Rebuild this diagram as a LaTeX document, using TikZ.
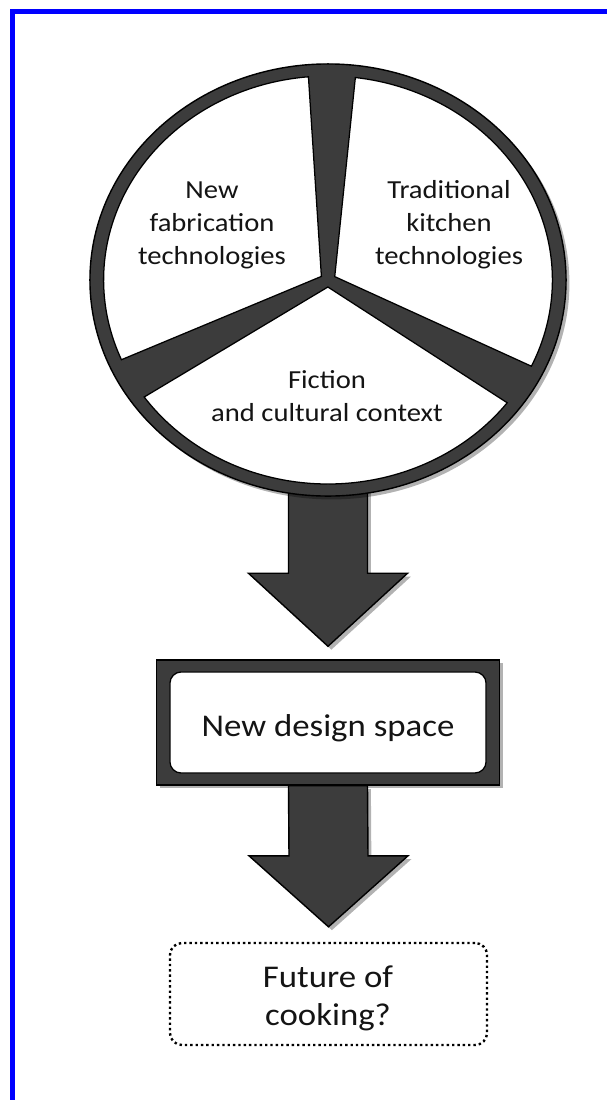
\documentclass[tikz,border=0pt]{standalone}
\usepackage{fontspec}
\setmainfont{Carlito}
\usetikzlibrary{calc,shapes.geometric,shadows}

\definecolor{ink}{RGB}{20,20,20}
\definecolor{slate}{RGB}{60,60,60}
\definecolor{frameblue}{RGB}{0,0,255}

\tikzset{
  frameline/.style={draw=frameblue, line width=0.125cm},
  softshadow/.style={drop shadow={shadow xshift=2.4pt, shadow yshift=-2.4pt, opacity=0.3, fill=black}},
  darkpart/.style={fill=slate, draw=black, line width=1pt, line join=miter},
  slice/.style={fill=white, draw=black, line width=0.9pt},
  label/.style={text=ink, align=center, inner sep=0pt, xscale=1.1,
    font=\fontsize{18.5}{23.4}\selectfont},
  biglabel/.style={text=ink, align=center, inner sep=0pt, xscale=1.1,
    font=\fontsize{22.5}{27}\selectfont},
  wheel/.style={ellipse, darkpart, softshadow, inner sep=0pt,
    minimum width=11.9cm, minimum height=10.8cm},
  plate/.style={rectangle, darkpart, softshadow, inner sep=0pt,
    minimum width=8.575cm, minimum height=3.125cm},
  card/.style={rectangle, fill=white, draw=black, line width=0.9pt,
    rounded corners=0.28cm, inner sep=0pt,
    minimum width=7.9cm, minimum height=2.525cm},
  dotbox/.style={rectangle, draw=black, line width=1.7pt,
    dash pattern=on 1.7pt off 2.1pt, rounded corners=0.3cm, inner sep=0pt,
    minimum width=7.925cm, minimum height=2.55cm},
}

% wide block arrow: #1 top of the shaft, #2 tip, #3 length of the head
\newcommand\blockarrow[3]{%
  \path[darkpart, softshadow]
    ($(#1)+(-39.5,0)$) -- ($(#2)+(-39.5,-#3)$) -- ($(#2)+(-79.5,-#3)$)
    -- (#2) -- ($(#2)+(79.5,-#3)$) -- ($(#2)+(39.5,-#3)$)
    -- ($(#1)+(39.5,0)$) -- cycle;}

\begin{document}
\begin{tikzpicture}[x=0.025cm, y=-0.025cm]
\useasboundingbox (0,0) rectangle (607,1100);

% blue frame along the left and top edges
\draw[frameline] (12.5,1100) -- (12.5,11.5) -- (607,11.5);

% layout anchors
\coordinate (hub) at (328,280);
\node[plate] (spaceplate) at (328,722.5) {};
\node[card] (spacecard) at (spaceplate.center) {};
\node[biglabel] (space) at (328,728) {New design space};
\node[dotbox] (future) at (328.5,994) {};
\node[biglabel] (futuretext) at (328,998) {Future of\\cooking?};

% arrows between the stages
\coordinate (arrowtopA) at ($(hub)+(0,190)$);
\coordinate (tipA) at ($(spaceplate.north)+(0,-13)$);
\blockarrow{arrowtopA}{tipA}{73}
\coordinate (tipB) at ($(future.north)+(0,-15)$);
\blockarrow{spaceplate.south}{tipB}{71}

% the three-part wheel
\node[wheel] (wheelring) at (hub) {};
\begin{scope}[shift={(hub)}, xscale=1.1, yscale=-1]
  \path[slice] (149:7) -- (95:204) arc[start angle=95, end angle=203, radius=204] -- cycle;
  \path[slice] (29:7) -- (-25:204) arc[start angle=-25, end angle=83, radius=204] -- cycle;
  \path[slice] (269:7) -- (215:204) arc[start angle=215, end angle=323, radius=204] -- cycle;
\end{scope}

\node[label] (newfab) at (212,225) {New\\fabrication\\technologies};
\node[label] (tradkit) at (449,225) {Traditional\\kitchen\\technologies};
\node[label] (fiction) at (327,396) {Fiction\\and cultural context};

\end{tikzpicture}
\end{document}
